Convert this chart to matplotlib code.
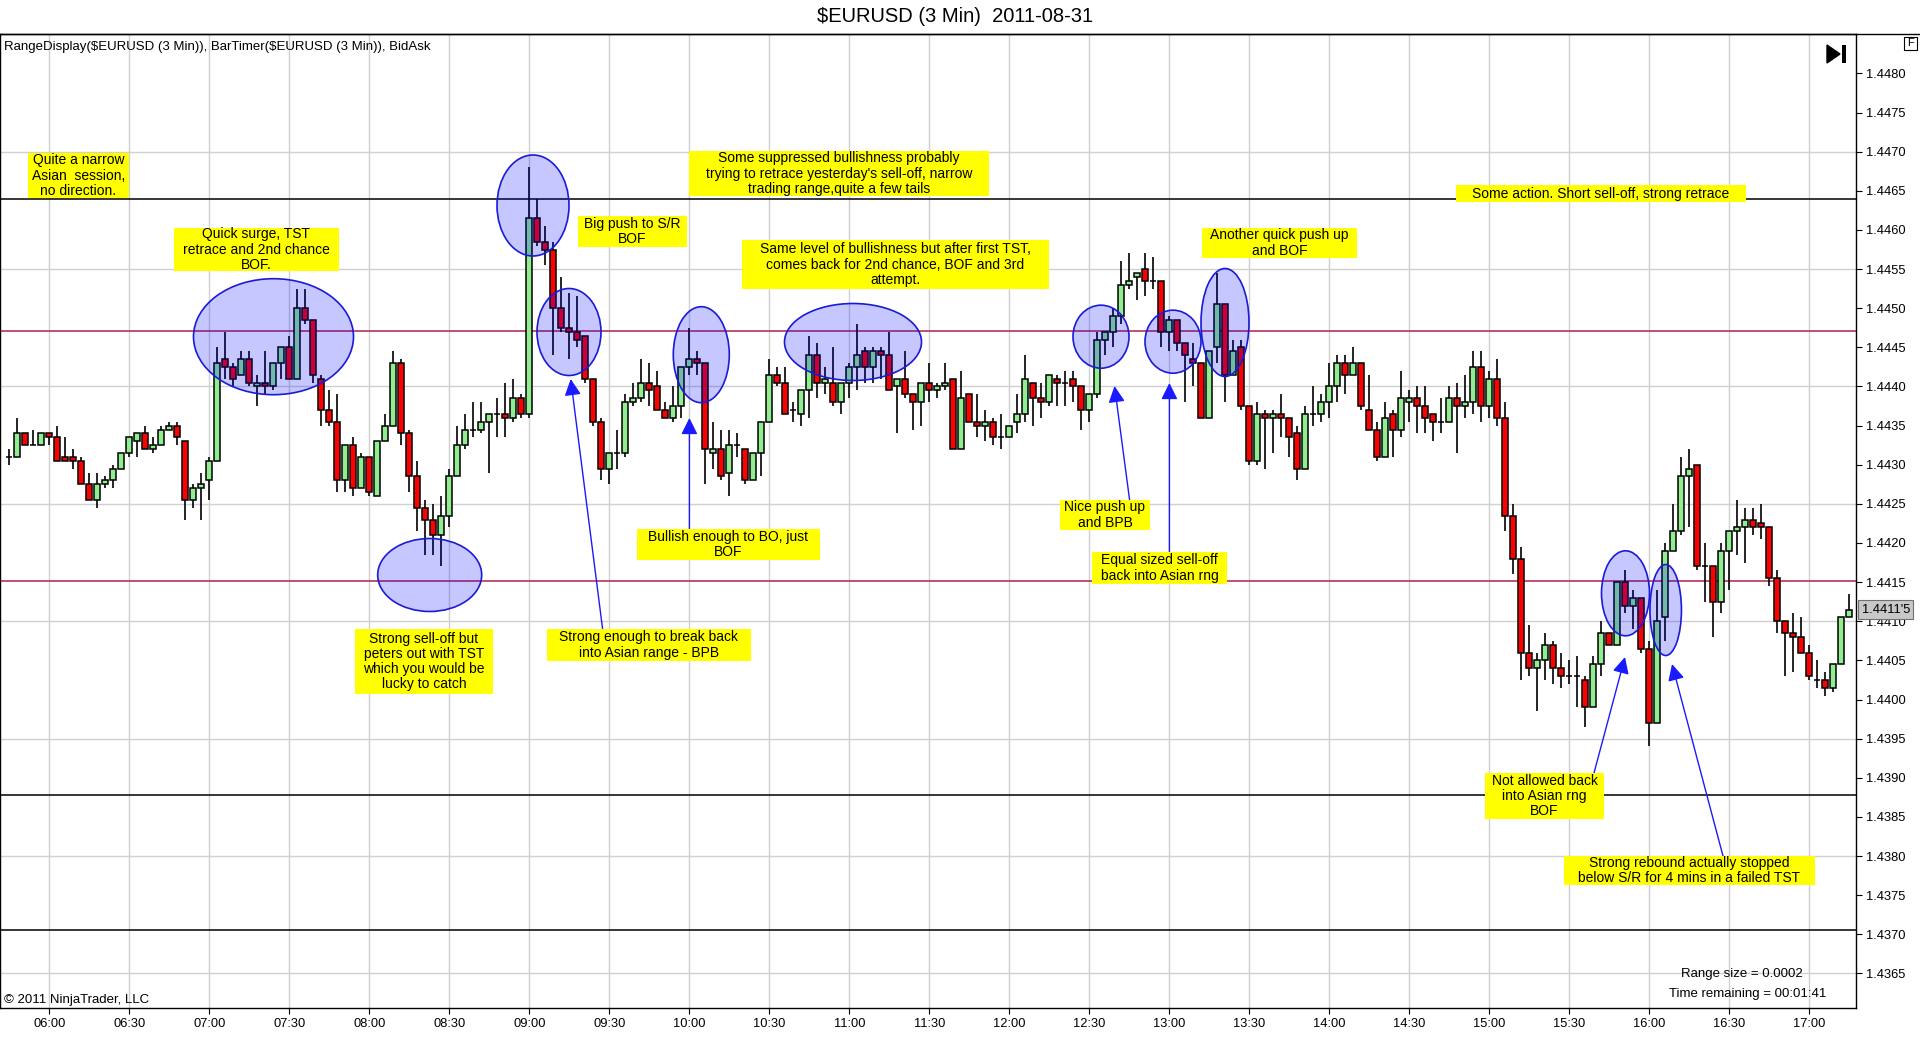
import matplotlib
matplotlib.use("Agg")
import matplotlib.pyplot as plt
import numpy as np
from matplotlib.patches import Ellipse, FancyArrowPatch, Rectangle, Polygon
from matplotlib.transforms import IdentityTransform, blended_transform_factory

plt.rcParams['font.family'] = ['Liberation Sans', 'DejaVu Sans']

# ---------------- data ----------------
title = r"\$EURUSD (3 Min)  2011-08-31"
indicator_label = r"RangeDisplay(\$EURUSD (3 Min)), BarTimer(\$EURUSD (3 Min)), BidAsk"
first_bar = "05:45"
bar_minutes = 3

opens = [
    1.44310, 1.44310, 1.44340, 1.44325, 1.44325, 1.44340, 1.44335, 1.44310, 1.44310, 1.44305,
    1.44275, 1.44255, 1.44275, 1.44280, 1.44295, 1.44315, 1.44330, 1.44340, 1.44320, 1.44325,
    1.44345, 1.44350, 1.44330, 1.44255, 1.44270, 1.44280, 1.44305, 1.44435, 1.44425, 1.44415,
    1.44435, 1.44400, 1.44405, 1.44400, 1.44430, 1.44450, 1.44410, 1.44500, 1.44485, 1.44410,
    1.44370, 1.44355, 1.44280, 1.44325, 1.44270, 1.44310, 1.44260, 1.44330, 1.44350, 1.44430,
    1.44340, 1.44285, 1.44245, 1.44230, 1.44210, 1.44235, 1.44285, 1.44325, 1.44345, 1.44345,
    1.44355, 1.44365, 1.44365, 1.44360, 1.44385, 1.44365, 1.44615, 1.44585, 1.44575, 1.44500,
    1.44475, 1.44470, 1.44465, 1.44410, 1.44355, 1.44295, 1.44315, 1.44315, 1.44380, 1.44385,
    1.44405, 1.44400, 1.44370, 1.44360, 1.44375, 1.44425, 1.44435, 1.44430, 1.44315, 1.44320,
    1.44290, 1.44325, 1.44320, 1.44280, 1.44315, 1.44355, 1.44415, 1.44405, 1.44370, 1.44365,
    1.44395, 1.44440, 1.44405, 1.44405, 1.44380, 1.44405, 1.44425, 1.44445, 1.44425, 1.44445,
    1.44440, 1.44400, 1.44410, 1.44390, 1.44380, 1.44405, 1.44395, 1.44400, 1.44410, 1.44320,
    1.44390, 1.44355, 1.44350, 1.44355, 1.44335, 1.44335, 1.44355, 1.44365, 1.44405, 1.44385,
    1.44380, 1.44410, 1.44405, 1.44410, 1.44400, 1.44370, 1.44390, 1.44460, 1.44470, 1.44490,
    1.44530, 1.44540, 1.44550, 1.44535, 1.44535, 1.44470, 1.44485, 1.44455, 1.44435, 1.44430,
    1.44360, 1.44450, 1.44505, 1.44415, 1.44450, 1.44375, 1.44305, 1.44365, 1.44360, 1.44365,
    1.44360, 1.44340, 1.44295, 1.44365, 1.44365, 1.44380, 1.44400, 1.44430, 1.44415, 1.44430,
    1.44370, 1.44345, 1.44310, 1.44365, 1.44345, 1.44380, 1.44385, 1.44375, 1.44365, 1.44355,
    1.44355, 1.44385, 1.44375, 1.44380, 1.44425, 1.44375, 1.44410, 1.44360, 1.44235, 1.44180,
    1.44060, 1.44040, 1.44050, 1.44070, 1.44040, 1.44030, 1.44030, 1.44025, 1.43990, 1.44045,
    1.44085, 1.44070, 1.44150, 1.44120, 1.44130, 1.44065, 1.43970, 1.44105, 1.44190, 1.44215,
    1.44285, 1.44300, 1.44170, 1.44170, 1.44125, 1.44190, 1.44215, 1.44220, 1.44230, 1.44225,
    1.44220, 1.44155, 1.44100, 1.44085, 1.44080, 1.44060, 1.44025, 1.44025, 1.44015, 1.44045,
    1.44105]

highs = [
    1.44320, 1.44360, 1.44340, 1.44345, 1.44340, 1.44340, 1.44350, 1.44335, 1.44320, 1.44310,
    1.44290, 1.44290, 1.44285, 1.44300, 1.44315, 1.44335, 1.44340, 1.44350, 1.44335, 1.44350,
    1.44355, 1.44355, 1.44330, 1.44275, 1.44290, 1.44310, 1.44450, 1.44470, 1.44430, 1.44445,
    1.44445, 1.44415, 1.44445, 1.44430, 1.44450, 1.44465, 1.44525, 1.44525, 1.44485, 1.44415,
    1.44395, 1.44390, 1.44325, 1.44335, 1.44315, 1.44310, 1.44330, 1.44365, 1.44445, 1.44435,
    1.44345, 1.44305, 1.44255, 1.44250, 1.44260, 1.44295, 1.44350, 1.44365, 1.44380, 1.44380,
    1.44365, 1.44385, 1.44405, 1.44410, 1.44390, 1.44680, 1.44640, 1.44605, 1.44585, 1.44540,
    1.44520, 1.44515, 1.44465, 1.44410, 1.44360, 1.44315, 1.44345, 1.44390, 1.44405, 1.44435,
    1.44430, 1.44420, 1.44380, 1.44400, 1.44425, 1.44475, 1.44445, 1.44430, 1.44355, 1.44345,
    1.44345, 1.44340, 1.44320, 1.44315, 1.44355, 1.44435, 1.44425, 1.44425, 1.44380, 1.44395,
    1.44465, 1.44455, 1.44425, 1.44450, 1.44405, 1.44430, 1.44480, 1.44450, 1.44450, 1.44450,
    1.44470, 1.44410, 1.44445, 1.44390, 1.44405, 1.44430, 1.44405, 1.44430, 1.44410, 1.44420,
    1.44390, 1.44390, 1.44370, 1.44360, 1.44365, 1.44350, 1.44390, 1.44440, 1.44405, 1.44405,
    1.44415, 1.44415, 1.44420, 1.44420, 1.44400, 1.44390, 1.44470, 1.44470, 1.44500, 1.44560,
    1.44570, 1.44545, 1.44570, 1.44565, 1.44535, 1.44490, 1.44485, 1.44455, 1.44455, 1.44430,
    1.44445, 1.44545, 1.44505, 1.44460, 1.44460, 1.44375, 1.44380, 1.44370, 1.44370, 1.44390,
    1.44360, 1.44350, 1.44375, 1.44400, 1.44390, 1.44430, 1.44440, 1.44440, 1.44450, 1.44430,
    1.44415, 1.44355, 1.44380, 1.44370, 1.44420, 1.44395, 1.44400, 1.44400, 1.44365, 1.44385,
    1.44400, 1.44405, 1.44415, 1.44445, 1.44445, 1.44420, 1.44435, 1.44380, 1.44250, 1.44195,
    1.44095, 1.44060, 1.44085, 1.44075, 1.44060, 1.44050, 1.44055, 1.44030, 1.44055, 1.44100,
    1.44085, 1.44150, 1.44165, 1.44140, 1.44130, 1.44075, 1.44140, 1.44200, 1.44250, 1.44310,
    1.44320, 1.44300, 1.44200, 1.44170, 1.44200, 1.44215, 1.44255, 1.44245, 1.44245, 1.44250,
    1.44220, 1.44165, 1.44100, 1.44110, 1.44105, 1.44070, 1.44050, 1.44035, 1.44045, 1.44105,
    1.44135]

lows = [
    1.44300, 1.44310, 1.44325, 1.44325, 1.44325, 1.44325, 1.44305, 1.44305, 1.44295, 1.44275,
    1.44255, 1.44245, 1.44270, 1.44270, 1.44295, 1.44310, 1.44310, 1.44320, 1.44315, 1.44325,
    1.44345, 1.44325, 1.44230, 1.44245, 1.44230, 1.44255, 1.44305, 1.44410, 1.44400, 1.44415,
    1.44400, 1.44375, 1.44390, 1.44395, 1.44410, 1.44410, 1.44410, 1.44480, 1.44405, 1.44350,
    1.44350, 1.44265, 1.44265, 1.44260, 1.44270, 1.44260, 1.44260, 1.44330, 1.44350, 1.44325,
    1.44265, 1.44215, 1.44185, 1.44185, 1.44170, 1.44220, 1.44285, 1.44320, 1.44335, 1.44340,
    1.44290, 1.44335, 1.44335, 1.44355, 1.44360, 1.44360, 1.44580, 1.44555, 1.44440, 1.44470,
    1.44435, 1.44450, 1.44405, 1.44350, 1.44280, 1.44275, 1.44295, 1.44310, 1.44375, 1.44380,
    1.44375, 1.44370, 1.44360, 1.44355, 1.44360, 1.44415, 1.44415, 1.44275, 1.44295, 1.44280,
    1.44260, 1.44310, 1.44275, 1.44280, 1.44285, 1.44355, 1.44400, 1.44365, 1.44355, 1.44350,
    1.44360, 1.44385, 1.44390, 1.44375, 1.44365, 1.44385, 1.44395, 1.44405, 1.44405, 1.44410,
    1.44395, 1.44340, 1.44385, 1.44345, 1.44350, 1.44380, 1.44385, 1.44395, 1.44320, 1.44320,
    1.44355, 1.44335, 1.44330, 1.44325, 1.44320, 1.44335, 1.44340, 1.44355, 1.44350, 1.44360,
    1.44375, 1.44375, 1.44375, 1.44380, 1.44345, 1.44355, 1.44385, 1.44440, 1.44450, 1.44480,
    1.44525, 1.44510, 1.44515, 1.44525, 1.44450, 1.44445, 1.44445, 1.44380, 1.44400, 1.44360,
    1.44360, 1.44430, 1.44380, 1.44415, 1.44370, 1.44300, 1.44300, 1.44295, 1.44315, 1.44335,
    1.44310, 1.44280, 1.44295, 1.44350, 1.44355, 1.44360, 1.44380, 1.44390, 1.44415, 1.44370,
    1.44345, 1.44305, 1.44310, 1.44310, 1.44335, 1.44355, 1.44340, 1.44340, 1.44330, 1.44340,
    1.44355, 1.44315, 1.44360, 1.44365, 1.44355, 1.44360, 1.44350, 1.44215, 1.44160, 1.44025,
    1.44030, 1.43985, 1.44025, 1.44020, 1.44015, 1.44020, 1.43990, 1.43965, 1.43990, 1.44030,
    1.44070, 1.44070, 1.44110, 1.44090, 1.44060, 1.43940, 1.43970, 1.44075, 1.44190, 1.44210,
    1.44220, 1.44165, 1.44125, 1.44080, 1.44110, 1.44140, 1.44185, 1.44175, 1.44210, 1.44205,
    1.44145, 1.44085, 1.44030, 1.44035, 1.44060, 1.44025, 1.44015, 1.44005, 1.44010, 1.44045,
    1.44105]

closes = [
    1.44310, 1.44340, 1.44325, 1.44325, 1.44340, 1.44335, 1.44305, 1.44305, 1.44305, 1.44275,
    1.44255, 1.44275, 1.44280, 1.44295, 1.44315, 1.44335, 1.44340, 1.44320, 1.44325, 1.44345,
    1.44350, 1.44335, 1.44255, 1.44270, 1.44275, 1.44305, 1.44430, 1.44425, 1.44410, 1.44435,
    1.44405, 1.44405, 1.44400, 1.44430, 1.44450, 1.44410, 1.44500, 1.44485, 1.44415, 1.44370,
    1.44355, 1.44280, 1.44325, 1.44270, 1.44310, 1.44265, 1.44330, 1.44350, 1.44430, 1.44340,
    1.44285, 1.44245, 1.44230, 1.44210, 1.44235, 1.44285, 1.44325, 1.44345, 1.44345, 1.44355,
    1.44365, 1.44365, 1.44360, 1.44385, 1.44365, 1.44615, 1.44585, 1.44575, 1.44500, 1.44475,
    1.44470, 1.44460, 1.44410, 1.44355, 1.44295, 1.44315, 1.44315, 1.44380, 1.44385, 1.44405,
    1.44395, 1.44370, 1.44360, 1.44375, 1.44425, 1.44435, 1.44430, 1.44320, 1.44320, 1.44285,
    1.44325, 1.44325, 1.44280, 1.44315, 1.44355, 1.44415, 1.44405, 1.44365, 1.44370, 1.44395,
    1.44440, 1.44405, 1.44410, 1.44380, 1.44405, 1.44425, 1.44440, 1.44425, 1.44445, 1.44440,
    1.44395, 1.44410, 1.44390, 1.44380, 1.44405, 1.44395, 1.44400, 1.44405, 1.44320, 1.44385,
    1.44355, 1.44350, 1.44355, 1.44335, 1.44335, 1.44350, 1.44365, 1.44410, 1.44385, 1.44380,
    1.44415, 1.44405, 1.44405, 1.44400, 1.44370, 1.44390, 1.44460, 1.44470, 1.44490, 1.44530,
    1.44535, 1.44545, 1.44535, 1.44535, 1.44470, 1.44485, 1.44455, 1.44440, 1.44430, 1.44360,
    1.44445, 1.44505, 1.44415, 1.44445, 1.44375, 1.44305, 1.44365, 1.44360, 1.44365, 1.44360,
    1.44335, 1.44295, 1.44365, 1.44365, 1.44380, 1.44400, 1.44430, 1.44415, 1.44430, 1.44375,
    1.44345, 1.44310, 1.44360, 1.44345, 1.44385, 1.44385, 1.44375, 1.44360, 1.44355, 1.44355,
    1.44385, 1.44375, 1.44380, 1.44425, 1.44375, 1.44410, 1.44360, 1.44235, 1.44180, 1.44060,
    1.44040, 1.44050, 1.44070, 1.44040, 1.44030, 1.44030, 1.44030, 1.43990, 1.44045, 1.44085,
    1.44070, 1.44150, 1.44120, 1.44130, 1.44065, 1.43970, 1.44100, 1.44190, 1.44215, 1.44285,
    1.44295, 1.44170, 1.44170, 1.44125, 1.44190, 1.44215, 1.44220, 1.44230, 1.44220, 1.44220,
    1.44155, 1.44100, 1.44085, 1.44080, 1.44060, 1.44030, 1.44025, 1.44015, 1.44045, 1.44105,
    1.44115]

time_ticks = ["06:00", "06:30", "07:00", "07:30", "08:00", "08:30", "09:00", "09:30",
              "10:00", "10:30", "11:00", "11:30", "12:00", "12:30", "13:00", "13:30",
              "14:00", "14:30", "15:00", "15:30", "16:00", "16:30", "17:00"]
price_ticks = [1.4365, 1.4370, 1.4375, 1.4380, 1.4385, 1.4390, 1.4395, 1.4400, 1.4405,
               1.4410, 1.4415, 1.4420, 1.4425, 1.4430, 1.4435, 1.4440, 1.4445, 1.4450,
               1.4455, 1.4460, 1.4465, 1.4470, 1.4475, 1.4480]
price_grid = [1.4365, 1.4380, 1.4395, 1.4410, 1.4425, 1.4440, 1.4455, 1.4470]

black_levels = [1.44640, 1.43878, 1.43706]
crimson_levels = [1.44471, 1.44152]

# note text and its yellow box (x0, y0, x1, y1 in screen pixels)
notes = [
    ("Quite a narrow\nAsian  session,\nno direction.", (28, 153, 129, 198)),
    ("Quick surge, TST\nretrace and 2nd chance\nBOF.", (174, 228, 339, 271)),
    ("Some suppressed bullishness probably\ntrying to retrace yesterday's sell-off, narrow\ntrading range,quite a few tails", (689, 151, 989, 196)),
    ("Big push to S/R\nBOF", (578, 216, 687, 247)),
    ("Same level of bullishness but after first TST,\ncomes back for 2nd chance, BOF and 3rd\nattempt.", (742, 240, 1049, 289)),
    ("Some action. Short sell-off, strong retrace", (1456, 185, 1746, 202)),
    ("Another quick push up\nand BOF", (1202, 228, 1357, 258)),
    ("Nice push up\nand BPB", (1060, 500, 1150, 530)),
    ("Equal sized sell-off\nback into Asian rng", (1092, 552, 1227, 584)),
    ("Bullish enough to BO, just\nBOF", (637, 529, 820, 560)),
    ("Strong enough to break back\ninto Asian range - BPB", (547, 629, 751, 661)),
    ("Strong sell-off but\npeters out with TST\nwhich you would be\nlucky to catch", (355, 629, 493, 694)),
    ("Not allowed back\ninto Asian rng\nBOF", (1485, 773, 1604, 819)),
    ("Strong rebound actually stopped\nbelow S/R for 4 mins in a failed TST", (1564, 856, 1815, 885)),
]

# ellipses: centre x, centre y, width, height (screen pixels)
ellipses = [
    (273.5, 336.7, 160, 116), (429.7, 575, 104, 73), (533, 205.5, 72, 101),
    (569, 332, 64, 87), (701.3, 354.7, 56, 96), (853, 342, 137, 77),
    (1101, 336.7, 56, 63), (1173, 341.7, 56, 63), (1225, 322.5, 48, 108),
    (1625.5, 593.3, 48, 85), (1665.7, 610, 31.5, 91),
]
# arrows: tail (x, y) -> tip (x, y), screen pixels
arrows = [
    ((602.6, 629), (570.7, 379)), ((689.4, 529), (689.4, 418)),
    ((1129.6, 500), (1114.5, 386)), ((1169.4, 552), (1169.4, 383)),
    ((1594, 773), (1625, 657)), ((1723, 856), (1672, 664)),
]

# ---------------- figure ----------------
W, H = 1920, 1064
fig = plt.figure(figsize=(W / 100, H / 100), dpi=100)
ax_left, ax_right, ax_top, ax_bot = 0, 1856, 34, 1008
ax = fig.add_axes([ax_left / W, (H - ax_bot) / H, (ax_right - ax_left) / W, (ax_bot - ax_top) / H])

X0, X1 = 341.5, 1037.5
Y0 = 1.44 + (699.5 - ax_bot) / 78260
Y1 = 1.44 + (699.5 - ax_top) / 78260
SX = (X1 - X0) / (ax_right - ax_left)
SY = (Y1 - Y0) / (ax_bot - ax_top)


def xd(px):
    return X0 + (px - ax_left) * SX


def yd(py):
    return Y1 - (py - ax_top) * SY


h0, m0 = map(int, first_bar.split(":"))
n = len(opens)
times = h0 * 60 + m0 + bar_minutes * np.arange(n)
o = np.array(opens); c = np.array(closes); hi = np.array(highs); lo = np.array(lows)

tick_pos = [int(t[:2]) * 60 + int(t[3:]) for t in time_ticks]

# grid
for tp in tick_pos:
    ax.axvline(tp, color='#d0d0d0', lw=1, zorder=0)
for gp in price_grid:
    ax.axhline(gp, color='#d0d0d0', lw=1, zorder=0)

for lv in black_levels:
    ax.axhline(lv, color='black', lw=1.1, zorder=1)
for lv in crimson_levels:
    ax.axhline(lv, color='#b0204a', lw=1.1, zorder=1)

# candles
up = c >= o
body_low = np.minimum(o, c)
body_h = np.abs(c - o)
cols = np.where(up, '#90EE90', '#FF0000')
ax.vlines(times, lo, hi, color='black', lw=1.2, zorder=3)
ax.bar(times, body_h, bottom=body_low, width=2.25, color=cols, edgecolor='black',
       linewidth=1.1, zorder=4)

# ellipses
for (cx, cy, w, h) in ellipses:
    e = Ellipse((xd(cx), yd(cy)), w * SX, h * SY,
                facecolor=(0, 0, 1, 0.22), edgecolor=(0.1, 0.1, 0.85, 1), lw=1.2, zorder=5)
    ax.add_patch(e)

# arrows
for (tx, ty), (hx, hy) in arrows:
    a = FancyArrowPatch((xd(tx), yd(ty)), (xd(hx), yd(hy)),
                        arrowstyle='-|>,head_length=1.0,head_width=0.5', mutation_scale=10,
                        color='#1a1aff', lw=1.0, zorder=6, shrinkA=0, shrinkB=0)
    ax.add_patch(a)

# yellow notes
for txt, (bx0, by0, bx1, by1) in notes:
    ax.add_patch(Rectangle((xd(bx0), yd(by1)), (bx1 - bx0) * SX, (by1 - by0) * SY,
                           facecolor='#FFFF00', edgecolor='none', zorder=7))
    ax.text(xd((bx0 + bx1) / 2), yd((by0 + by1) / 2), txt, ha='center', va='center',
            multialignment='center', fontsize=10, color='black', zorder=8, linespacing=1.1)

ax.set_xlim(X0, X1)
ax.set_ylim(Y0, Y1)
ax.set_xticks(tick_pos)
ax.set_xticklabels(time_ticks, fontsize=9.3)
ax.yaxis.tick_right()
ax.set_yticks(price_ticks)
ax.set_yticklabels([f"{p:.4f}" for p in price_ticks], fontsize=9.3)
ax.tick_params(axis='both', length=4, width=0.8, color='black', pad=3)
for s in ax.spines.values():
    s.set_color('black'); s.set_linewidth(1)

# current price marker
last = closes[-1]
s = f"{last:.5f}"
lbl = s[:-1] + "'" + s[-1]
trans = blended_transform_factory(ax.transAxes, ax.transData)
ax.text(1.003, last, lbl, transform=trans, ha='left', va='center', fontsize=9.3,
        bbox=dict(boxstyle='square,pad=0.25', fc='#c8c8c8', ec='#707070', lw=0.8),
        clip_on=False, zorder=10)

# texts
fig.text(955 / W, 1 - 17 / H, title, ha='center', va='center', fontsize=14.5)
fig.text(4 / W, 1 - 47 / H, indicator_label, ha='left', va='center', fontsize=9.5)
fig.text(4 / W, 1 - 1000 / H, "\u00a9 2011 NinjaTrader, LLC", ha='left', va='center', fontsize=9.5)
fig.text(1742 / W, 1 - 973.5 / H, "Range size = 0.0002", ha='center', va='center', fontsize=9.5)
fig.text(1748 / W, 1 - 994 / H, "Time remaining = 00:01:41", ha='center', va='center', fontsize=9.5)

# top border across figure
fig.add_artist(plt.Line2D([0, 1], [1 - 34 / H, 1 - 34 / H], color='black', lw=1,
                          transform=fig.transFigure))

# "skip to end" icon and F box
idt = IdentityTransform()
fig.add_artist(Polygon([[1827, H - 45], [1827, H - 63], [1840, H - 54]], closed=True,
                       fc='black', ec='black', transform=idt))
fig.add_artist(Rectangle((1842, H - 63), 4, 18, fc='black', ec='none', transform=idt))
fig.add_artist(Rectangle((1904, H - 50), 13, 13, fc='white', ec='black', lw=0.8, transform=idt))
fig.text(1910.5 / W, 1 - 43.5 / H, "F", ha='center', va='center', fontsize=8)

fig.savefig("out.png", dpi=100)
